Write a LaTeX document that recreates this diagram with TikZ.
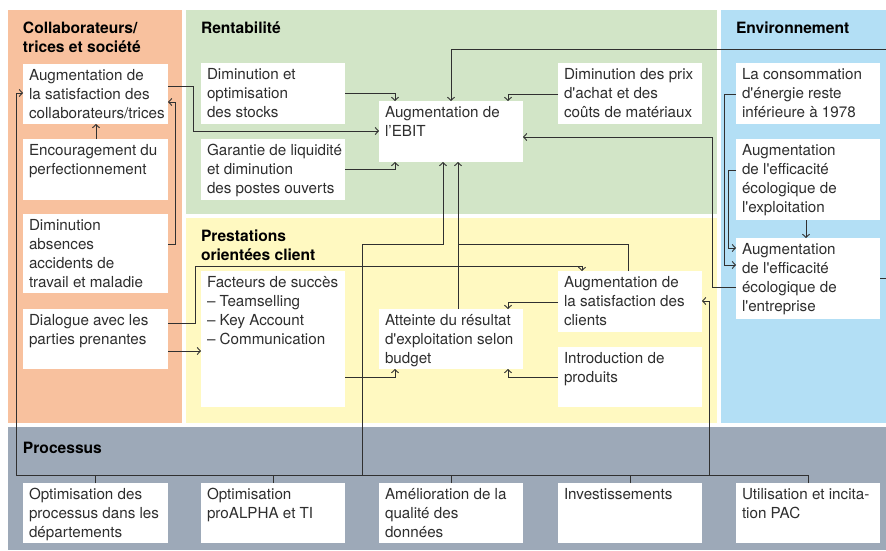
\documentclass[tikz,border=0pt]{standalone}
\usepackage{fontspec}
\setmainfont{TeX Gyre Heros}
\newfontfamily\bodyf{TeX Gyre Heros}
\usetikzlibrary{arrows.meta}
\definecolor{corange}{HTML}{F8C19E}
\definecolor{cgreen}{HTML}{D2E5C7}
\definecolor{cyellow}{HTML}{FFF9C1}
\definecolor{cblue}{HTML}{B3DFF5}
\definecolor{cgray}{HTML}{9DA9B8}
\definecolor{txtc}{HTML}{2E2E2E}
\definecolor{linec}{HTML}{303030}
\tikzset{
  wbox/.style={fill=white, draw=none, inner sep=0pt, outer sep=0pt, anchor=north west},
  btxt/.style={anchor=north west, inner sep=0pt, outer sep=0pt, align=left, text=txtc,
     font=\bodyf\fontsize{15.2}{19}\selectfont},
  head/.style={anchor=north west, inner sep=0pt, outer sep=0pt, align=left, text=black,
     font=\bodyf\bfseries\fontsize{15.6}{19}\selectfont},
  conn/.style={draw=linec, line width=0.9pt},
  arr/.style={conn, -{Straight Barb[length=3.2pt,width=7pt]}},
}
\newcommand\bx[6]{%
  \node[wbox, minimum width=#4pt, minimum height=#5pt] (#1) at (#2,#3) {};
  \node[btxt] (#1t) at ([xshift=6pt,yshift=-4.5pt]#1.north west) {\rule{0pt}{11.5pt}#6};
}
\begin{document}
\begin{tikzpicture}[x=1pt,y=-1pt]
\useasboundingbox (0,0) rectangle (886,551);
% panels
\fill[corange] (8,10) rectangle (182,423);
\fill[cgreen] (186,10) rectangle (717,214);
\fill[cyellow] (186,218) rectangle (717,423);
\fill[cblue] (721,10) rectangle (886,423);
\fill[cgray] (8,427) rectangle (886,550);
% headings
\node[head] (h1) at (23,21.7) {Collaborateurs/\\trices et société};
\node[head] (h2) at (201,21.7) {Rentabilité};
\node[head] (h3) at (736,21.7) {Environnement};
\node[head] (h4) at (201,229.7) {Prestations\\orientées client};
\node[head] (h5) at (23,441.7) {Processus};
% boxes
\bx{cs}{23}{64}{145}{60}{Augmentation de\\la satisfaction des\\collaborateurs/trices}
\bx{enc}{23}{139}{145}{61}{Encouragement du\\perfectionnement}
\bx{dim}{23}{214}{145}{79}{Diminution\\absences\\accidents de\\travail et maladie}
\bx{dia}{23}{309}{145}{60}{Dialogue avec les\\parties prenantes}
\bx{sto}{201}{63}{144}{61}{Diminution et\\optimisation\\des stocks}
\bx{liq}{201}{139}{144}{61}{Garantie de liquidité\\et diminution\\des postes ouverts}
\bx{ebit}{379}{101}{144}{61}{Augmentation de\\l’EBIT}
\bx{prix}{558}{63}{144}{61}{Diminution des prix\\d'achat et des\\coûts de matériaux}
\bx{cons}{736}{63}{144}{61}{La consommation\\d'énergie reste\\inférieure à 1978}
\bx{expl}{736}{139}{144}{81}{Augmentation\\de l'efficacité\\écologique de\\l'exploitation}
\bx{entr}{736}{238}{144}{81}{Augmentation\\de l'efficacité\\écologique de\\l'entreprise}
\bx{fac}{201}{271}{144}{136}{Facteurs de succès\\– Teamselling\\– Key Account\\– Communication}
\bx{att}{379}{309}{144}{60}{Atteinte du résultat\\d'exploitation selon\\budget}
\bx{cli}{558}{271}{144}{61}{Augmentation de\\la satisfaction des\\clients}
\bx{prod}{558}{347}{144}{60}{Introduction de\\produits}
\bx{p1}{23}{483}{145}{60}{Optimisation des\\processus dans les\\départements}
\bx{p2}{201}{483}{144}{60}{Optimisation\\proALPHA et TI}
\bx{p3}{379}{483}{144}{60}{Amélioration de la\\qualité des\\données}
\bx{p4}{558}{483}{144}{60}{Investissements}
\bx{p5}{736}{483}{144}{60}{Utilisation et incita-\\tion PAC}
% helper coordinates
\coordinate (busL) at (16,475);
\coordinate (j1) at (362,475);
\coordinate (j2) at (709,475);
\coordinate (topR) at (886.2,49);
% connectors - collaborateurs
\draw[arr] ([xshift=73pt]enc.north west) -- ([xshift=73pt]cs.south west);
\draw[arr] ([yshift=-30pt]dim.north east) -- ++(7pt,0) |- ([yshift=-38pt]cs.north east);
\draw[arr] (busL) |- ([yshift=-29pt]cs.north west);
\draw[arr] ([yshift=-22pt]cs.north east) -- ++(25pt,0) |- ([yshift=-30pt]ebit.north west);
% rentabilite
\draw[arr] ([yshift=-30pt]sto.north east) -| ([xshift=16pt]ebit.north west);
\draw[arr] ([yshift=-30pt]liq.north east) -| ([xshift=16pt]ebit.south west);
\draw[arr] ([yshift=-31pt]prix.north west) -| ([xshift=-15pt]ebit.north east);
\draw[arr] ([yshift=-40pt]entr.north east) -| (topR) -| ([xshift=72pt]ebit.north west);
\draw[arr] ([yshift=-49pt]entr.north west) -- ++(-24pt,0) |- ([yshift=-36pt]ebit.north east);
% environnement
\draw[arr] ([yshift=-31pt]cons.north west) -- ++(-12pt,0) |- ([yshift=-27pt]entr.north west);
\draw[arr] ([yshift=-31pt]expl.north west) -- ++(-8pt,0) |- ([yshift=-10pt]entr.north west);
\draw[arr] ([xshift=-74pt]expl.south east) -- ([xshift=-74pt]entr.north east);
% prestations
\draw[arr] ([yshift=-14pt]dia.north east) -- ++(27pt,0) |- ([xshift=24pt,yshift=5pt]cli.north west) -- ([xshift=24pt]cli.north west);
\draw[arr] ([yshift=-42pt]dia.north east) -- ([yshift=-42pt]dia.north east -| fac.west);
\draw[arr] ([yshift=-106pt]fac.north east) -| ([xshift=16pt]att.south west);
\draw[arr] ([xshift=79pt]att.north west) -- ([xshift=79pt]ebit.south west);
\draw[conn] ([xshift=70pt]cli.north west) |- ([xshift=79pt,yshift=-82pt]ebit.south west);
\draw[arr] ([yshift=-31pt]cli.north west) -| ([xshift=-15pt]att.north east);
\draw[arr] ([yshift=-30pt]prod.north west) -| ([xshift=-15pt]att.south east);
% processus
\draw[conn] (busL) -- (busL -| p5.north);
\foreach \p in {p1,p2,p3,p4,p5} \draw[conn] (\p.north) -- (\p.north |- busL);
\draw[arr] (j1) |- ([xshift=64pt,yshift=-82pt]ebit.south west) -- ([xshift=64pt]ebit.south west);
\draw[arr] (j2) |- ([yshift=-30pt]cli.north east);
\end{tikzpicture}
\end{document}
